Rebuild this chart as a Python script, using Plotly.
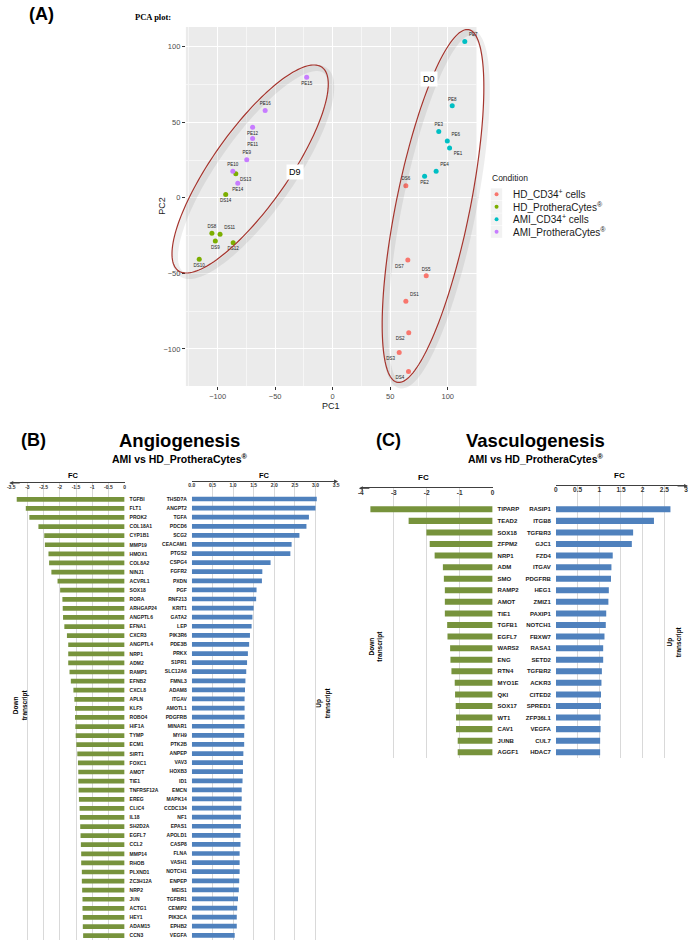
import numpy as np
import plotly.graph_objects as go

W, H = 696, 945
FONT = "Liberation Sans, Arial, sans-serif"

# ---------------- (A) PCA ----------------
sample_names = ["DS1", "DS2", "DS3", "DS4", "DS5", "DS6", "DS7",
                "DS8", "DS9", "DS10", "DS11", "DS12", "DS13", "DS14",
                "PE1", "PE2", "PE3", "PE4", "PE6", "PE7", "PE8",
                "PE9", "PE10", "PE11", "PE12", "PE14", "PE15", "PE16"]
pc1 = [63.6, 66.1, 57.8, 65.9, 81.3, 63.6, 65.3,
       -105.0, -102.0, -116.0, -97.9, -86.5, -84.2, -93.0,
       101.6, 79.9, 92.2, 89.9, 99.6, 114.8, 103.9,
       -74.7, -86.8, -69.6, -69.6, -82.5, -22.6, -58.7]
pc2 = [-68.4, -89.2, -102.3, -114.9, -51.6, 8.0, -41.2,
       -23.4, -28.6, -40.7, -24.1, -29.7, 15.9, 2.2,
       33.0, 14.2, 43.8, 17.5, 37.6, 103.4, 60.9,
       25.2, 17.5, 39.2, 46.7, 9.7, 79.7, 57.8]
sample_condition = ["HD_CD34"] * 7 + ["HD_Prot"] * 7 + ["AMI_CD34"] * 7 + ["AMI_Prot"] * 7
label_pos = ["top right", "bottom left", "bottom left", "bottom left", "top center", "top center", "bottom left",
             "top center", "bottom center", "bottom center", "top right", "bottom center", "bottom right", "bottom center",
             "bottom right", "bottom center", "top center", "top right", "top right", "top right", "top center",
             "top center", "top center", "bottom center", "bottom center", "bottom center", "bottom center", "top center"]

conditions = ["HD_CD34", "HD_Prot", "AMI_CD34", "AMI_Prot"]
condition_labels = ["HD_CD34<sup>+</sup> cells", "HD_ProtheraCytes<sup>®</sup>",
                    "AMI_CD34<sup>+</sup> cells", "AMI_ProtheraCytes<sup>®</sup>"]
condition_colors = ["#F8766D", "#7CAE00", "#00BFC4", "#C77CFF"]

pca_xticks = [-100, -50, 0, 50, 100]
pca_yticks = [-100, -50, 0, 50, 100]

# ---------------- (B) Angiogenesis ----------------
angio_down_genes = ["TGFBI", "FLT1", "PROK2", "COL18A1", "CYP1B1", "MMP19", "HMOX1", "COL8A2", "NINJ1", "ACVRL1",
                    "SOX18", "RORA", "ARHGAP24", "ANGPTL6", "EFNA1", "CXCR3", "ANGPTL4", "NRP1", "ADM2", "RAMP1",
                    "EFNB2", "CXCL8", "APLN", "KLF5", "ROBO4", "HIF1A", "TYMP", "ECM1", "SIRT1", "FOXC1",
                    "AMOT", "TIE1", "TNFRSF12A", "EREG", "CLIC4", "IL18", "SH2D2A", "EGFL7", "CCL2", "MMP14",
                    "RHOB", "PLXND1", "ZC3H12A", "NRP2", "JUN", "ACTG1", "HEY1", "ADAM15", "CCN3"]
angio_down_fc = [-3.33, -3.05, -2.94, -2.66, -2.48, -2.46, -2.35, -2.33, -2.26, -2.07,
                 -1.99, -1.92, -1.91, -1.90, -1.86, -1.78, -1.74, -1.74, -1.74, -1.70,
                 -1.66, -1.58, -1.55, -1.53, -1.53, -1.52, -1.51, -1.49, -1.46, -1.44,
                 -1.43, -1.43, -1.42, -1.41, -1.39, -1.38, -1.37, -1.36, -1.35, -1.34,
                 -1.34, -1.32, -1.32, -1.31, -1.30, -1.30, -1.29, -1.29, -1.28]
angio_up_genes = ["THSD7A", "ANGPT2", "TGFA", "PDCD6", "SCG2", "CEACAM1", "PTGS2", "CSPG4", "FGFR2", "PXDN",
                  "PGF", "RNF213", "KRIT1", "GATA2", "LEP", "PIK3R6", "PDE3B", "PRKX", "S1PR1", "SLC12A6",
                  "FMNL3", "ADAM8", "ITGAV", "AMOTL1", "PDGFRB", "MINAR1", "MYH9", "PTK2B", "ANPEP", "VAV3",
                  "HOXB3", "ID1", "EMCN", "MAPK14", "CCDC134", "NF1", "EPAS1", "APOLD1", "CASP8", "FLNA",
                  "VASH1", "NOTCH1", "ENPEP", "MEIS1", "TGFBR1", "CEMIP2", "PIK3CA", "EPHB2", "VEGFA"]
angio_up_fc = [3.03, 3.00, 2.84, 2.78, 2.61, 2.42, 2.39, 1.91, 1.71, 1.70,
               1.57, 1.56, 1.50, 1.47, 1.45, 1.41, 1.39, 1.36, 1.34, 1.32,
               1.30, 1.29, 1.28, 1.28, 1.28, 1.28, 1.27, 1.27, 1.25, 1.24,
               1.24, 1.23, 1.21, 1.21, 1.20, 1.19, 1.19, 1.18, 1.18, 1.16,
               1.16, 1.16, 1.15, 1.14, 1.12, 1.10, 1.09, 1.09, 1.04]
angio_down_ticks = [-3.5, -3, -2.5, -2, -1.5, -1, -0.5, 0]
angio_down_ticktext = ["-3.5", "-3", "-2.5", "-2", "-1.5", "-1", "-0.5", "0"]
angio_up_ticks = [0, 0.5, 1, 1.5, 2, 2.5, 3, 3.5]
angio_up_ticktext = ["0.0", "0.5", "1.0", "1.5", "2.0", "2.5", "3.0", "3.5"]

# ---------------- (C) Vasculogenesis ----------------
vasc_down_genes = ["TIPARP", "TEAD2", "SOX18", "ZFPM2", "NRP1", "ADM", "SMO", "RAMP2", "AMOT", "TIE1", "TGFB1",
                   "EGFL7", "WARS2", "ENG", "RTN4", "MYO1E", "QKI", "SOX17", "WT1", "CAV1", "JUNB", "AGGF1"]
vasc_down_fc = [-3.71, -2.55, -2.01, -1.91, -1.76, -1.51, -1.48, -1.45, -1.45, -1.45, -1.38,
                -1.37, -1.29, -1.28, -1.25, -1.15, -1.14, -1.12, -1.11, -1.11, -1.06, -1.06]
vasc_up_genes = ["RASIP1", "ITGB8", "TGFBR3", "GJC1", "FZD4", "ITGAV", "PDGFRB", "HEG1", "ZMIZ1", "PAXIP1", "NOTCH1",
                 "FBXW7", "RASA1", "SETD2", "TGFBR2", "ACKR3", "CITED2", "SPRED1", "ZFP36L1", "VEGFA", "CUL7", "HDAC7"]
vasc_up_fc = [2.64, 2.26, 1.78, 1.75, 1.31, 1.28, 1.27, 1.22, 1.21, 1.16, 1.15,
              1.12, 1.09, 1.09, 1.06, 1.05, 1.04, 1.04, 1.03, 1.03, 1.02, 1.02]
vasc_down_ticks = [-4, -3, -2, -1, 0]
vasc_down_ticktext = ["-4", "-3", "-2", "-1", "0"]
vasc_up_ticks = [0, 0.5, 1, 1.5, 2, 2.5, 3]
vasc_up_ticktext = ["0", "0.5", "1", "1.5", "2", "2.5", "3"]

GREEN = "#77933C"
BLUE = "#4F81BD"


def fx(p):
    return p / W


def fy(p):
    return 1 - p / H


fig = go.Figure()

# PCA points
for cond, color in zip(conditions, condition_colors):
    idx = [i for i, c in enumerate(sample_condition) if c == cond]
    fig.add_trace(go.Scatter(
        x=[pc1[i] for i in idx], y=[pc2[i] for i in idx],
        text=[sample_names[i] for i in idx],
        textposition=[label_pos[i] for i in idx],
        mode="markers+text", cliponaxis=False, showlegend=False,
        marker=dict(size=5, color=color),
        textfont=dict(size=4.5, color="#222222", family=FONT),
        xaxis="x", yaxis="y",
    ))

# bar panels: (genes, fc, color, axis number, x0, x1, axis line y, first bar y, step, range, ticks, ticktext, side, fonts)
panels = [
    (angio_down_genes, angio_down_fc, GREEN, 2, 7.3, 122, 483.0, 499.3, 9.09, [-3.5, 0],
     angio_down_ticks, angio_down_ticktext, "right", 5, 5),
    (angio_up_genes, angio_up_fc, BLUE, 3, 190, 336, 481.5, 499.0, 9.09, [0, 3.5],
     angio_up_ticks, angio_up_ticktext, "left", 5, 5),
    (vasc_down_genes, vasc_down_fc, GREEN, 4, 361, 494.3, 488.3, 509.3, 11.57, [-4, 0],
     vasc_down_ticks, vasc_down_ticktext, "right", 6, 6.5),
    (vasc_up_genes, vasc_up_fc, BLUE, 5, 558.3, 690, 486.0, 509.3, 11.57, [0, 3],
     vasc_up_ticks, vasc_up_ticktext, "left", 6, 6.5),
]

layout_axes = {}
annotations = []
for genes, fc, color, k, x0, x1, ay_px, first, step, xr, tv, tt, side, gfont, tfont in panels:
    n = len(genes)
    fig.add_trace(go.Bar(
        x=fc, y=genes, orientation="h", marker=dict(color=color, line=dict(width=0)),
        width=0.52, showlegend=False, xaxis=f"x{k}", yaxis=f"y{k}",
    ))
    ext = (first - ay_px) / step
    bottom = first + (n - 1) * step + step / 2
    layout_axes[f"xaxis{k}"] = dict(
        domain=[fx(x0), fx(x1)], range=xr, anchor=f"y{k}", side="top",
        tickvals=tv, ticktext=tt, ticklabelposition="inside", ticklabeloverflow="allow",
        tickfont=dict(size=tfont, family=FONT, color="#333333", weight="bold"),
        showline=True, linecolor="#404040", linewidth=1, ticks="",
        showgrid=True, gridcolor="#D9D9D9", gridwidth=1, zeroline=False, fixedrange=True,
    )
    layout_axes[f"yaxis{k}"] = dict(
        domain=[fy(bottom), fy(ay_px)], anchor=f"x{k}", type="category",
        categoryorder="array", categoryarray=genes, range=[n - 0.5, -ext],
        side=side, showgrid=False, showline=False, ticks="", ticklabelstandoff=4,
        tickfont=dict(size=gfont, family=FONT, color="#1a1a1a", weight="bold"),
        zeroline=False, fixedrange=True,
    )
    # axis arrow
    if xr[0] < 0:
        annotations.append(dict(x=fx(x0 - 2), y=fy(ay_px), xref="paper", yref="paper", text="",
                                showarrow=True, ax=12, ay=0, arrowhead=2, arrowsize=0.8,
                                arrowwidth=1, arrowcolor="#404040"))
    else:
        annotations.append(dict(x=fx(x1 + 2), y=fy(ay_px), xref="paper", yref="paper", text="",
                                showarrow=True, ax=-12, ay=0, arrowhead=2, arrowsize=0.8,
                                arrowwidth=1, arrowcolor="#404040"))


def text_ann(x, y, text, size, bold=False, color="#000000", family=FONT, angle=0, align="center",
             xanchor="center", bg=None):
    d = dict(x=fx(x), y=fy(y), xref="paper", yref="paper", text=text, showarrow=False,
             font=dict(size=size, family=family, color=color, weight="bold" if bold else "normal"),
             xanchor=xanchor, yanchor="middle", textangle=angle, align=align)
    if bg:
        d.update(bgcolor=bg, borderpad=2)
    return d


annotations += [
    text_ann(37.5, 14, "(A)", 18, bold=True),
    text_ann(151, 17, "PCA plot:", 8.5, bold=True, family="Liberation Serif, Times New Roman, serif"),
    text_ann(159.5, 206, "PC2", 9, color="#1a1a1a", angle=-90),
    text_ann(331, 405.5, "PC1", 9, color="#1a1a1a"),
    text_ann(294.5, 172, "D9", 9, bg="white"),
    text_ann(430, 79, "D0", 9, bg="white"),
    text_ann(491.5, 178, "Condition", 8.5, color="#1a1a1a", xanchor="left"),
    text_ann(30, 440, "(B)", 18, bold=True),
    text_ann(178, 440, "Angiogenesis", 18.5, bold=True),
    text_ann(178, 458, "AMI vs HD_ProtheraCytes<sup>®</sup>", 10.5, bold=True),
    text_ann(70, 476, "FC", 7.5, bold=True),
    text_ann(264, 476, "FC", 7.5, bold=True),
    text_ann(16.5, 705, "Down<br>transcript", 6.5, bold=True, angle=-90),
    text_ann(323, 703, "Up<br>transcript", 6.5, bold=True, angle=-90),
    text_ann(388.5, 440, "(C)", 18, bold=True),
    text_ann(538, 440, "Vasculogenesis", 18.5, bold=True),
    text_ann(538, 458, "AMI vs HD_ProtheraCytes<sup>®</sup>", 10.5, bold=True),
    text_ann(424, 477, "FC", 8, bold=True),
    text_ann(623, 476, "FC", 8, bold=True),
    text_ann(376, 646, "Down<br>transcript", 6.5, bold=True, angle=-90),
    text_ann(678, 642, "Up<br>transcript", 6.5, bold=True, angle=-90),
]

# PCA panel background (ggplot grey), only behind the scatter subplot
shapes = [dict(type="rect", xref="x domain", yref="y domain", x0=0, x1=1, y0=0, y1=1,
               fillcolor="#EBEBEB", line=dict(width=0), layer="below")]

# manual legend
legend_rows = [194.3, 206.8, 219.3, 231.8]
for lab, color, ry in zip(condition_labels, condition_colors, legend_rows):
    shapes.append(dict(type="rect", xref="paper", yref="paper", x0=fx(492.5), x1=fx(504), y0=fy(ry + 6),
                       y1=fy(ry - 6), fillcolor="#F2F2F2", line=dict(width=0)))
    shapes.append(dict(type="circle", xref="paper", yref="paper", x0=fx(496.3), x1=fx(500.3), y0=fy(ry + 2),
                       y1=fy(ry - 2), fillcolor=color, line=dict(width=0)))
    annotations.append(text_ann(512.5, ry, lab, 10, color="#1a1a1a", xanchor="left"))


def ellipse_path(cx, cy, a, b, deg, dx=0.0, dy=0.0):
    t = np.linspace(0, 2 * np.pi, 160)
    th = np.radians(deg)
    xs = cx + dx + a * np.cos(t) * np.cos(th) - b * np.sin(t) * np.sin(th)
    ys = cy + dy - (a * np.cos(t) * np.sin(th) + b * np.sin(t) * np.cos(th))
    return "M " + " L ".join(f"{fx(x):.5f},{fy(y):.5f}" for x, y in zip(xs, ys)) + " Z"


for cx, cy, a, b, deg in [(249, 169, 125, 38, 54.4), (434, 206, 180, 37.3, 78.4)]:
    shapes.append(dict(type="path", xref="paper", yref="paper", path=ellipse_path(cx, cy, a, b, deg, 3, 3),
                       line=dict(color="rgba(0,0,0,0.07)", width=6)))
    shapes.append(dict(type="path", xref="paper", yref="paper", path=ellipse_path(cx, cy, a, b, deg),
                       line=dict(color="#A5352E", width=1.2)))

fig.update_layout(
    width=W, height=H, margin=dict(l=0, r=0, t=0, b=0),
    paper_bgcolor="white", plot_bgcolor="white",
    font=dict(family=FONT),
    showlegend=False, bargap=0.5,
    xaxis=dict(domain=[fx(184), fx(478)], range=[-127.6, 125], anchor="y",
               tickvals=pca_xticks, ticks="outside", ticklen=3, tickcolor="#333333",
               tickfont=dict(size=7.5, color="#4D4D4D", family=FONT),
               showgrid=True, gridcolor="white", gridwidth=1.1, zeroline=False,
               minor=dict(dtick=25, tick0=0, showgrid=True, gridcolor="#F6F6F6", gridwidth=0.6)),
    yaxis=dict(domain=[fy(386), fy(27)], range=[-124.5, 113], anchor="x",
               tickvals=pca_yticks, ticks="outside", ticklen=3, tickcolor="#333333",
               tickfont=dict(size=7.5, color="#4D4D4D", family=FONT),
               showgrid=True, gridcolor="white", gridwidth=1.1, zeroline=False,
               minor=dict(dtick=25, tick0=0, showgrid=True, gridcolor="#F6F6F6", gridwidth=0.6)),
    annotations=annotations, shapes=shapes,
    **layout_axes,
)

# the page body has a default 8px margin; drop it so the figure fills the window exactly
fig.write_html("out.html", config={"displayModeBar": False},
               post_script="document.body.style.margin='0';document.body.style.overflow='hidden';")
